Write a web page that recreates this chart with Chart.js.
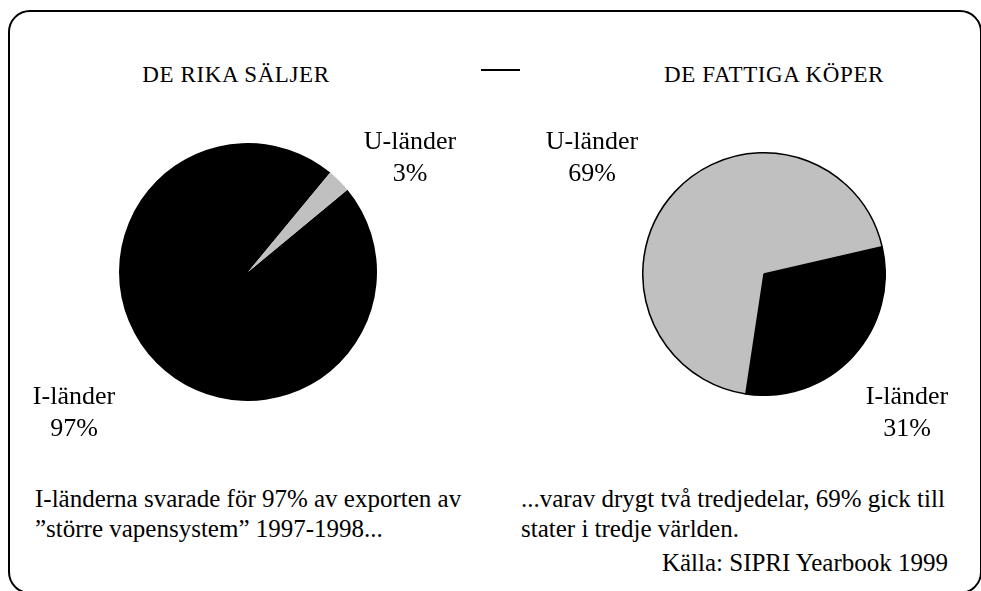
<!DOCTYPE html>
<html lang="sv">
<head>
<meta charset="utf-8">
<script src="https://cdn.jsdelivr.net/npm/chart.js@4"></script>
<style>
  html, body { margin: 0; padding: 0; background: #fff; }
  body { width: 981px; height: 591px; overflow: hidden; position: relative; font-family: "Liberation Serif", "Times New Roman", serif; color: #000; }
  .frame { position: absolute; left: 8px; top: 10px; width: 974px; height: 584px; border: 2px solid #000; border-radius: 22px; box-sizing: border-box; }
  .t { position: absolute; white-space: nowrap; }
  .title { font-size: 23px; line-height: 30px; letter-spacing: 0.6px; top: 60px; width: 300px; text-align: center; }
  .lbl { font-size: 26px; text-align: center; line-height: 32px; width: 120px; }
  .txt { font-size: 25px; line-height: 30px; }
  .dash { position: absolute; left: 481px; top: 69px; width: 39px; height: 2px; background: #000; }
  canvas { position: absolute; }
</style>
</head>
<body>
<div class="frame"></div>

<div class="t title" style="left:86px">DE RIKA SÄLJER</div>
<div class="dash"></div>
<div class="t title" style="left:624px">DE FATTIGA KÖPER</div>

<canvas id="pie-left" width="258" height="258" style="left:119px;top:143px"></canvas>
<canvas id="pie-right" width="244" height="244" style="left:642px;top:152px"></canvas>

<div class="t lbl" id="lbl-ul" style="left:350px;top:125px"></div>
<div class="t lbl" id="lbl-ur" style="left:532px;top:125px"></div>
<div class="t lbl" id="lbl-il" style="left:14px;top:380px"></div>
<div class="t lbl" id="lbl-ir" style="left:847px;top:380px"></div>

<div class="t txt" style="left:35px;top:484px">I-länderna svarade för 97% av exporten av<br>”större vapensystem” 1997-1998...</div>
<div class="t txt" style="left:521px;top:484px">...varav drygt två tredjedelar, 69% gick till<br>stater i tredje världen.</div>
<div class="t txt" style="right:33px;top:548px">Källa: SIPRI Yearbook 1999</div>

<script>
// Data
const categories   = ['I-länder', 'U-länder'];
const exportShare  = [97, 3];    // De rika säljer
const importShare  = [31, 69];   // De fattiga köper
const sliceColors  = ['#000000', '#c0c0c0'];

function label(id, cat, val) {
  document.getElementById(id).innerHTML = cat + '<br>' + val + '%';
}
label('lbl-il', categories[0], exportShare[0]);
label('lbl-ul', categories[1], exportShare[1]);
label('lbl-ir', categories[0], importShare[0]);
label('lbl-ur', categories[1], importShare[1]);

function pie(id, values, rotation, border) {
  return new Chart(document.getElementById(id), {
    type: 'pie',
    data: {
      labels: categories,
      datasets: [{ data: values, backgroundColor: sliceColors, borderColor: '#000', borderWidth: border }],
    },
    options: {
      responsive: false,
      animation: false,
      rotation: rotation,
      layout: { padding: 0 },
      plugins: { legend: { display: false }, tooltip: { enabled: false } },
    },
  });
}

pie('pie-left', exportShare, 50.4, 0);
pie('pie-right', importShare, 77, 1.5);
</script>
</body>
</html>
